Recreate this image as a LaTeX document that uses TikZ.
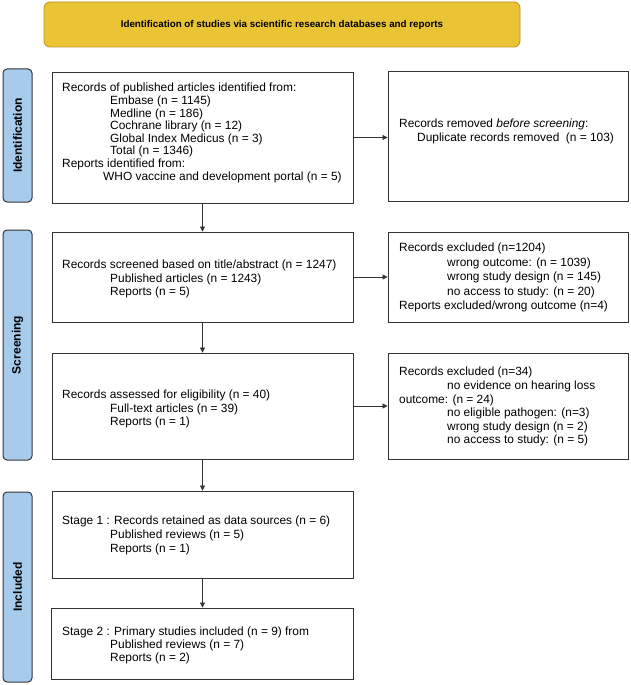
\documentclass[tikz,border=0pt]{standalone}
\usepackage{fontspec}
\setmainfont{Liberation Sans}
\usetikzlibrary{arrows.meta}
\definecolor{bannerfill}{HTML}{EBC435}
\definecolor{bannerline}{HTML}{B8961E}
\definecolor{sideblue}{HTML}{A7CBEB}
\definecolor{lineg}{HTML}{333333}
\begin{document}
\begin{tikzpicture}[x=1pt,y=-1pt,
  box/.style={draw=lineg,line width=0.8pt,inner sep=0pt,rectangle},
  side/.style={draw=black!80,fill=sideblue,line width=1pt,rounded corners=4pt,inner sep=0pt,rotate=90,font=\fontsize{12}{14}\selectfont\bfseries},
  bannerst/.style={draw=bannerline,fill=bannerfill,line width=0.8pt,rounded corners=6pt,inner sep=0pt,font=\fontsize{9.8}{12}\selectfont\bfseries},
  tx/.style={anchor=north west,align=left,inner sep=0pt,font=\fontsize{11.9}{#1}\selectfont},
  tx/.default=13.5,
  arr/.style={-{Triangle[length=5pt,width=5pt]},line width=0.6pt,draw=lineg}]
\useasboundingbox (0,0) rectangle (631,685);
\node[bannerst,minimum width=476pt,minimum height=45pt] (ban) at (282,24.5) {Identification of studies via scientific research databases and reports};
\node[side,minimum width=133pt,minimum height=29pt] (s1) at (17.5,135.5) {Identification};
\node[side,minimum width=230pt,minimum height=29pt] (s2) at (17.5,345) {Screening};
\node[side,minimum width=190pt,minimum height=29pt] (s3) at (17.5,587) {Included};
\node[box,minimum width=301pt,minimum height=131pt] (b1) at (202.5,137.5) {};
\node[box,minimum width=301pt,minimum height=90pt] (b2) at (202.5,277) {};
\node[box,minimum width=301pt,minimum height=106pt] (b3) at (202.5,406) {};
\node[box,minimum width=301pt,minimum height=87pt] (b4) at (202.5,534.5) {};
\node[box,minimum width=302pt,minimum height=71pt] (b5) at (202,643.5) {};
\node[box,minimum width=240pt,minimum height=130pt] (r1) at (508,136) {};
\node[box,minimum width=240pt,minimum height=90pt] (r2) at (508,277) {};
\node[box,minimum width=240pt,minimum height=106pt] (r3) at (508,406) {};
\node[tx=12.6] (t1) at (62,83) {Records of published articles identified from:\\
\hspace*{48pt}Embase (n = 1145)\\
\hspace*{48pt}Medline (n = 186)\\
\hspace*{48pt}Cochrane library (n = 12)\\
\hspace*{48pt}Global Index Medicus (n = 3)\\
\hspace*{48pt}Total (n = 1346)\\
Reports identified from:\\
\hspace*{41pt}WHO vaccine and development portal (n = 5)};
\node[tx=14] (tr1) at (399,118.5) {Records removed \textit{before screening}:\\
\hspace*{18pt}Duplicate records removed\ \ (n = 103)};
\node[tx=13.3] (t2) at (62,260) {Records screened based on title/abstract (n = 1247)\\
\hspace*{48pt}Published articles (n = 1243)\\
\hspace*{48pt}Reports (n = 5)};
\node[tx=14.4] (tr2) at (399,243) {Records excluded (n=1204)\\
\hspace*{48pt}wrong outcome: (n = 1039)\\
\hspace*{48pt}wrong study design (n = 145)\\
\hspace*{48pt}no access to study: (n = 20)\\
Reports excluded/wrong outcome (n=4)};
\node[tx=13.5] (t3) at (62,390) {Records assessed for eligibility (n = 40)\\
\hspace*{48pt}Full-text articles (n = 39)\\
\hspace*{48pt}Reports (n = 1)};
\node[tx=13.6] (tr3) at (399,367) {Records excluded (n=34)\\
\hspace*{48pt}no evidence on hearing loss\\
outcome: (n = 24)\\
\hspace*{48pt}no eligible pathogen: (n=3)\\
\hspace*{48pt}wrong study design (n = 2)\\
\hspace*{48pt}no access to study: (n = 5)};
\node[tx=14] (t4) at (62,516) {Stage 1 : Records retained as data sources (n = 6)\\
\hspace*{48pt}Published reviews (n = 5)\\
\hspace*{48pt}Reports (n = 1)};
\node[tx=13] (t5) at (62,627) {Stage 2 : Primary studies included (n = 9) from\\
\hspace*{48pt}Published reviews (n = 7)\\
\hspace*{48pt}Reports (n = 2)};
\draw[arr] (b1) -- (b2);
\draw[arr] (b2) -- (b3);
\draw[arr] (b3) -- (b4);
\draw[arr] (b4) -- (b5.north -| b4.south);
\draw[arr] (b1.east) -- (b1.east -| r1.west);
\draw[arr] (b2.east) -- (b2.east -| r2.west);
\draw[arr] (b3.east) -- (b3.east -| r3.west);
\end{tikzpicture}
\end{document}
